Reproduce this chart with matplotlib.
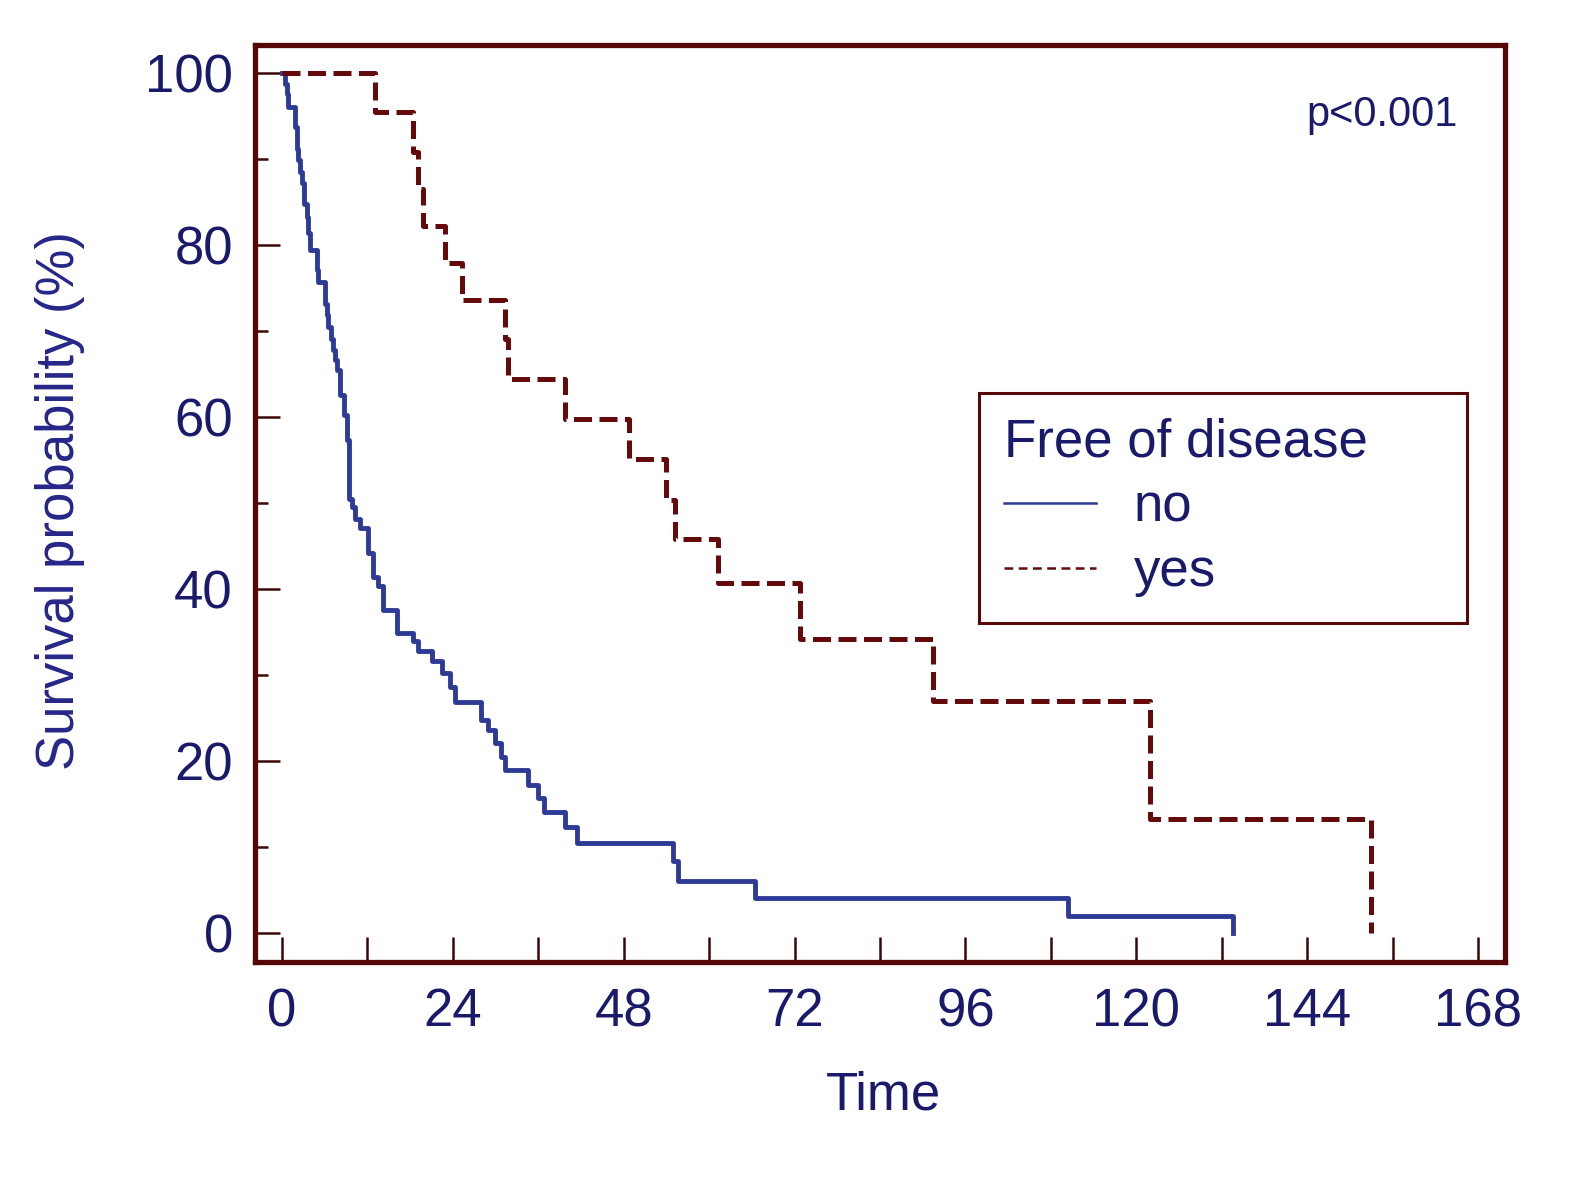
import matplotlib
matplotlib.use("Agg")
import matplotlib.pyplot as plt
from matplotlib.lines import Line2D
from matplotlib.ticker import MultipleLocator

plt.rcParams["font.family"] = ["Liberation Sans", "DejaVu Sans"]

# Kaplan-Meier steps (time in months, survival in %)
times_no = [0, 0.4, 0.65, 0.9, 1.8, 2.06, 2.3, 2.5, 2.77, 3.14, 3.47, 3.7, 3.93,
            4.87, 5.1, 6.0, 6.3, 6.5, 6.9, 7.2, 7.4, 7.7, 8.1, 8.75, 9.1, 9.45,
            9.8, 10.25, 10.95, 12.1, 12.8, 13.5, 14.2, 16.1, 18.4, 19.1, 21.0,
            22.4, 23.6, 24.3, 28.0, 29.0, 29.9, 30.7, 31.3, 34.6, 36.0, 36.8,
            39.8, 41.5, 54.9, 55.6, 66.4, 110.4, 133.6]
surv_no = [100, 98.8, 97.6, 96.1, 93.8, 91.2, 89.9, 88.5, 87.2, 84.8, 83.3, 81.4, 79.4,
           77.1, 75.7, 73.2, 71.9, 70.5, 69.1, 67.8, 66.6, 65.5, 62.6, 60.2, 57.3, 50.5,
           49.6, 48.2, 47.1, 44.2, 41.4, 40.3, 37.6, 34.9, 33.9, 32.8, 31.6,
           30.2, 28.6, 26.9, 24.8, 23.6, 22.1, 20.5, 18.9, 17.2, 15.7, 14.0,
           12.3, 10.5, 8.3, 6.0, 4.1, 2.0, 0]

times_yes = [0, 13.1, 18.4, 19.1, 19.8, 22.9, 25.3, 31.3, 31.7, 39.8, 48.7, 53.9,
             55.2, 61.2, 72.8, 91.4, 121.9, 152.9]
surv_yes = [100, 95.5, 90.9, 86.5, 82.2, 77.9, 73.6, 69.1, 64.4, 59.8, 55.1, 50.4,
            45.8, 40.7, 34.2, 27.0, 13.3, 0]

group_labels = ["no", "yes"]
legend_title = "Free of disease"
p_text = "p<0.001"

navy = "#1a1a6c"
blue = "#2e3b96"
maroon = "#640a0a"
frame = "#560808"

fig = plt.figure(figsize=(15.74, 11.81), dpi=100)
ax = fig.add_axes([0.162, 0.1854, 0.7942, 0.7765])

ax.step(times_no, surv_no, where="post", color=blue, lw=3.5)
ax.step(times_yes, surv_yes, where="post", color=maroon, lw=3.6,
        linestyle=(0, (3.6, 1.5)))

ax.set_xlim(-3.8, 171.8)
ax.set_ylim(-3.4, 103.3)

ax.xaxis.set_major_locator(MultipleLocator(24))
ax.xaxis.set_minor_locator(MultipleLocator(12))
ax.yaxis.set_major_locator(MultipleLocator(20))
ax.yaxis.set_minor_locator(MultipleLocator(10))

ax.tick_params(axis="both", which="both", direction="in", color="#3a0606",
               labelcolor=navy, labelsize=38, pad=16)
ax.tick_params(axis="x", which="both", length=18, width=1.8, pad=18)
ax.tick_params(axis="y", which="major", length=18, width=1.8)
ax.tick_params(axis="y", which="minor", length=9, width=1.8)

for s in ax.spines.values():
    s.set_linewidth(3.8)
    s.set_color(frame)

ax.set_xlabel("Time", fontsize=38, color=navy, va="center")
ax.xaxis.set_label_coords(0.503, -0.145)
ax.set_ylabel("Survival probability (%)", fontsize=38, color="#26268a", va="center")
ax.yaxis.set_label_coords(-0.156, 0.503)

ax.text(0.962, 0.924, p_text, transform=ax.transAxes, ha="right", va="center",
        fontsize=30, color=navy)

handles = [Line2D([], [], color=blue, lw=1.8),
           Line2D([], [], color=maroon, lw=1.8, linestyle=(0, (3.5, 2.2)))]
leg = ax.legend(handles, group_labels, title=legend_title, loc="upper left",
                bbox_to_anchor=(0.579, 0.0, 0.3904, 0.621), mode="expand",
                borderaxespad=0, fancybox=False, framealpha=1, edgecolor=frame,
                fontsize=38, title_fontsize=38, alignment="left",
                handlelength=1.75, handletextpad=0.7, labelspacing=0.28,
                borderpad=0.48)
leg.get_frame().set_linewidth(2.2)
for t in leg.get_texts():
    t.set_color(navy)
leg.get_title().set_color(navy)

fig.savefig("out.png", dpi=100)
plt.close()
